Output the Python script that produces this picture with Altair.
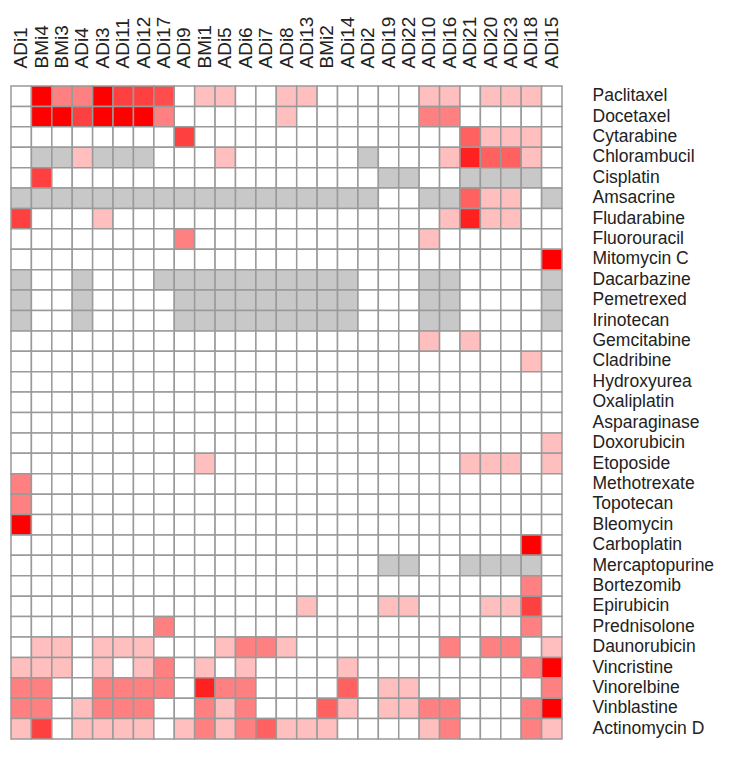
import altair as alt
import pandas as pd

N = None

samples = ["ADi1", "BMi4", "BMi3", "ADi4", "ADi3", "ADi11", "ADi12", "ADi17", "ADi9",
           "BMi1", "ADi5", "ADi6", "ADi7", "ADi8", "ADi13", "BMi2", "ADi14", "ADi2",
           "ADi19", "ADi22", "ADi10", "ADi16", "ADi21", "ADi20", "ADi23", "ADi18", "ADi15"]

drugs = ["Paclitaxel", "Docetaxel", "Cytarabine", "Chlorambucil", "Cisplatin", "Amsacrine",
         "Fludarabine", "Fluorouracil", "Mitomycin C", "Dacarbazine", "Pemetrexed",
         "Irinotecan", "Gemcitabine", "Cladribine", "Hydroxyurea", "Oxaliplatin",
         "Asparaginase", "Doxorubicin", "Etoposide", "Methotrexate", "Topotecan",
         "Bleomycin", "Carboplatin", "Mercaptopurine", "Bortezomib", "Epirubicin",
         "Prednisolone", "Daunorubicin", "Vincristine", "Vinorelbine", "Vinblastine",
         "Actinomycin D"]

# sensitivity level per drug (rows) and sample (columns); None = not tested (grey)
paclitaxel   = [0, 4, 2, 2, 4, 3, 3, 2.8, 0, 1, 1, 0, 0, 1, 1, 0, 0, 0, 0, 0, 1, 1, 0, 1, 1, 1, 0]
docetaxel    = [0, 4, 4, 3, 4, 4, 4.3, 2, 0, 0, 0, 0, 0, 1, 0, 0, 0, 0, 0, 0, 2, 2, 0, 0, 0, 0, 0]
cytarabine   = [0, 0, 0, 0, 0, 0, 0, 0, 3, 0, 0, 0, 0, 0, 0, 0, 0, 0, 0, 0, 0, 0, 2.5, 1, 1, 1, 0]
chlorambucil = [0, N, N, 1, N, N, N, 0, 0, 0, 1, 0, 0, 0, 0, 0, 0, N, 0, 0, 0, 1, 3.5, 2.5, 2.5, 1, 0]
cisplatin    = [0, 3, 0, 0, 0, 0, 0, 0, 0, 0, 0, 0, 0, 0, 0, 0, 0, 0, N, N, 0, 0, N, N, N, N, 0]
amsacrine    = [N, N, N, N, N, N, N, N, N, N, N, N, N, N, N, N, N, N, 0, 0, N, N, 2.5, 1, 1, 0, N]
fludarabine  = [3, 0, 0, 0, 1, 0, 0, 0, 0, 0, 0, 0, 0, 0, 0, 0, 0, 0, 0, 0, 0, 1, 3.5, 1, 1, 0, 0]
fluorouracil = [0, 0, 0, 0, 0, 0, 0, 0, 2, 0, 0, 0, 0, 0, 0, 0, 0, 0, 0, 0, 1, 0, 0, 0, 0, 0, 0]
mitomycin    = [0, 0, 0, 0, 0, 0, 0, 0, 0, 0, 0, 0, 0, 0, 0, 0, 0, 0, 0, 0, 0, 0, 0, 0, 0, 0, 4]
dacarbazine  = [N, 0, 0, N, 0, 0, 0, N, N, N, N, N, N, N, N, N, N, 0, 0, 0, N, N, 0, 0, 0, 0, N]
pemetrexed   = [N, 0, 0, N, 0, 0, 0, 0, N, N, N, N, N, N, N, N, N, 0, 0, 0, N, N, 0, 0, 0, 0, N]
irinotecan   = [N, 0, 0, N, 0, 0, 0, 0, N, N, N, N, N, N, N, N, N, 0, 0, 0, N, N, 0, 0, 0, 0, N]
gemcitabine  = [0, 0, 0, 0, 0, 0, 0, 0, 0, 0, 0, 0, 0, 0, 0, 0, 0, 0, 0, 0, 1, 0, 1, 0, 0, 0, 0]
cladribine   = [0, 0, 0, 0, 0, 0, 0, 0, 0, 0, 0, 0, 0, 0, 0, 0, 0, 0, 0, 0, 0, 0, 0, 0, 0, 1, 0]
hydroxyurea  = [0, 0, 0, 0, 0, 0, 0, 0, 0, 0, 0, 0, 0, 0, 0, 0, 0, 0, 0, 0, 0, 0, 0, 0, 0, 0, 0]
oxaliplatin  = [0, 0, 0, 0, 0, 0, 0, 0, 0, 0, 0, 0, 0, 0, 0, 0, 0, 0, 0, 0, 0, 0, 0, 0, 0, 0, 0]
asparaginase = [0, 0, 0, 0, 0, 0, 0, 0, 0, 0, 0, 0, 0, 0, 0, 0, 0, 0, 0, 0, 0, 0, 0, 0, 0, 0, 0]
doxorubicin  = [0, 0, 0, 0, 0, 0, 0, 0, 0, 0, 0, 0, 0, 0, 0, 0, 0, 0, 0, 0, 0, 0, 0, 0, 0, 0, 1]
etoposide    = [0, 0, 0, 0, 0, 0, 0, 0, 0, 1, 0, 0, 0, 0, 0, 0, 0, 0, 0, 0, 0, 0, 1, 1, 1, 0, 1]
methotrexate = [2, 0, 0, 0, 0, 0, 0, 0, 0, 0, 0, 0, 0, 0, 0, 0, 0, 0, 0, 0, 0, 0, 0, 0, 0, 0, 0]
topotecan    = [2, 0, 0, 0, 0, 0, 0, 0, 0, 0, 0, 0, 0, 0, 0, 0, 0, 0, 0, 0, 0, 0, 0, 0, 0, 0, 0]
bleomycin    = [4, 0, 0, 0, 0, 0, 0, 0, 0, 0, 0, 0, 0, 0, 0, 0, 0, 0, 0, 0, 0, 0, 0, 0, 0, 0, 0]
carboplatin  = [0, 0, 0, 0, 0, 0, 0, 0, 0, 0, 0, 0, 0, 0, 0, 0, 0, 0, 0, 0, 0, 0, 0, 0, 0, 4, 0]
mercaptopur  = [0, 0, 0, 0, 0, 0, 0, 0, 0, 0, 0, 0, 0, 0, 0, 0, 0, 0, N, N, 0, 0, N, N, N, N, 0]
bortezomib   = [0, 0, 0, 0, 0, 0, 0, 0, 0, 0, 0, 0, 0, 0, 0, 0, 0, 0, 0, 0, 0, 0, 0, 0, 0, 2, 0]
epirubicin   = [0, 0, 0, 0, 0, 0, 0, 0, 0, 0, 0, 0, 0, 0, 1, 0, 0, 0, 1, 1, 0, 0, 0, 1, 1, 3, 0]
prednisolone = [0, 0, 0, 0, 0, 0, 0, 2, 0, 0, 0, 0, 0, 0, 0, 0, 0, 0, 0, 0, 0, 0, 0, 0, 0, 2, 0]
daunorubicin = [0, 1, 1, 0, 1, 1, 1, 0, 0, 0, 1, 2, 2, 1, 0, 0, 0, 0, 0, 0, 0, 2, 0, 2, 2, 0, 1]
vincristine  = [1, 1, 1, 0, 1, 0, 1, 2, 0, 1, 0, 1, 0, 0, 0, 0, 1, 0, 0, 0, 0, 0, 0, 0, 0, 2, 4]
vinorelbine  = [2, 2, 0, 0, 2, 2, 2, 2, 0, 3.5, 2, 2, 0, 0, 0, 0, 2.5, 0, 1, 1, 0, 0, 0, 0, 0, 0, 2]
vinblastine  = [2, 2, 0, 1, 2, 2, 2, 0, 0, 2, 1, 2, 0, 0, 0, 2.5, 1, 0, 1, 1, 2, 2, 0, 0, 0, 2, 4]
actinomycin  = [1, 3, 0, 1, 1, 1, 1, 0, 1, 2, 1, 2, 2.5, 1, 1, 1, 0, 0, 0, 0, 1, 2, 0, 0, 0, 2, 1]

matrix = [paclitaxel, docetaxel, cytarabine, chlorambucil, cisplatin, amsacrine,
          fludarabine, fluorouracil, mitomycin, dacarbazine, pemetrexed, irinotecan,
          gemcitabine, cladribine, hydroxyurea, oxaliplatin, asparaginase, doxorubicin,
          etoposide, methotrexate, topotecan, bleomycin, carboplatin, mercaptopur,
          bortezomib, epirubicin, prednisolone, daunorubicin, vincristine, vinorelbine,
          vinblastine, actinomycin]

records = []
for drug, row in zip(drugs, matrix):
    for sample, v in zip(samples, row):
        records.append({"drug": drug, "sample": sample,
                        "v": 0.0 if v is None else float(v), "na": v is None})
df = pd.DataFrame(records)

color_scale = alt.Scale(type="linear", domain=[0, 4], range=["#ffffff", "#ff0000"],
                        interpolate="rgb", zero=False, nice=False, clamp=True)

chart = alt.Chart(df).mark_rect(stroke="#9a9a9a", strokeWidth=1.5).encode(
    x=alt.X("sample:N", sort=samples,
            scale=alt.Scale(paddingInner=0, paddingOuter=0),
            axis=alt.Axis(orient="top", labelAngle=-90, title=None, ticks=False,
                          domain=False, labelFontSize=19, labelPadding=18,
                          labelFont="Liberation Sans", labelColor="#222222")),
    y=alt.Y("drug:N", sort=drugs,
            scale=alt.Scale(paddingInner=0, paddingOuter=0),
            axis=alt.Axis(orient="right", title=None, ticks=False, domain=False,
                          labelFontSize=17.5, labelPadding=30, labelAlign="left",
                          labelFont="Liberation Sans", labelColor="#222222")),
    color=alt.condition("datum.na",
                        alt.value("#c8c8c8"),
                        alt.Color("v:Q", scale=color_scale, legend=None)),
).properties(
    width=551, height=653,
    padding={"left": 2, "top": 8, "right": 5, "bottom": 5},
).configure(background="white").configure_view(stroke=None)

chart.save("out.html", embed_options={"renderer": "svg", "actions": False})
